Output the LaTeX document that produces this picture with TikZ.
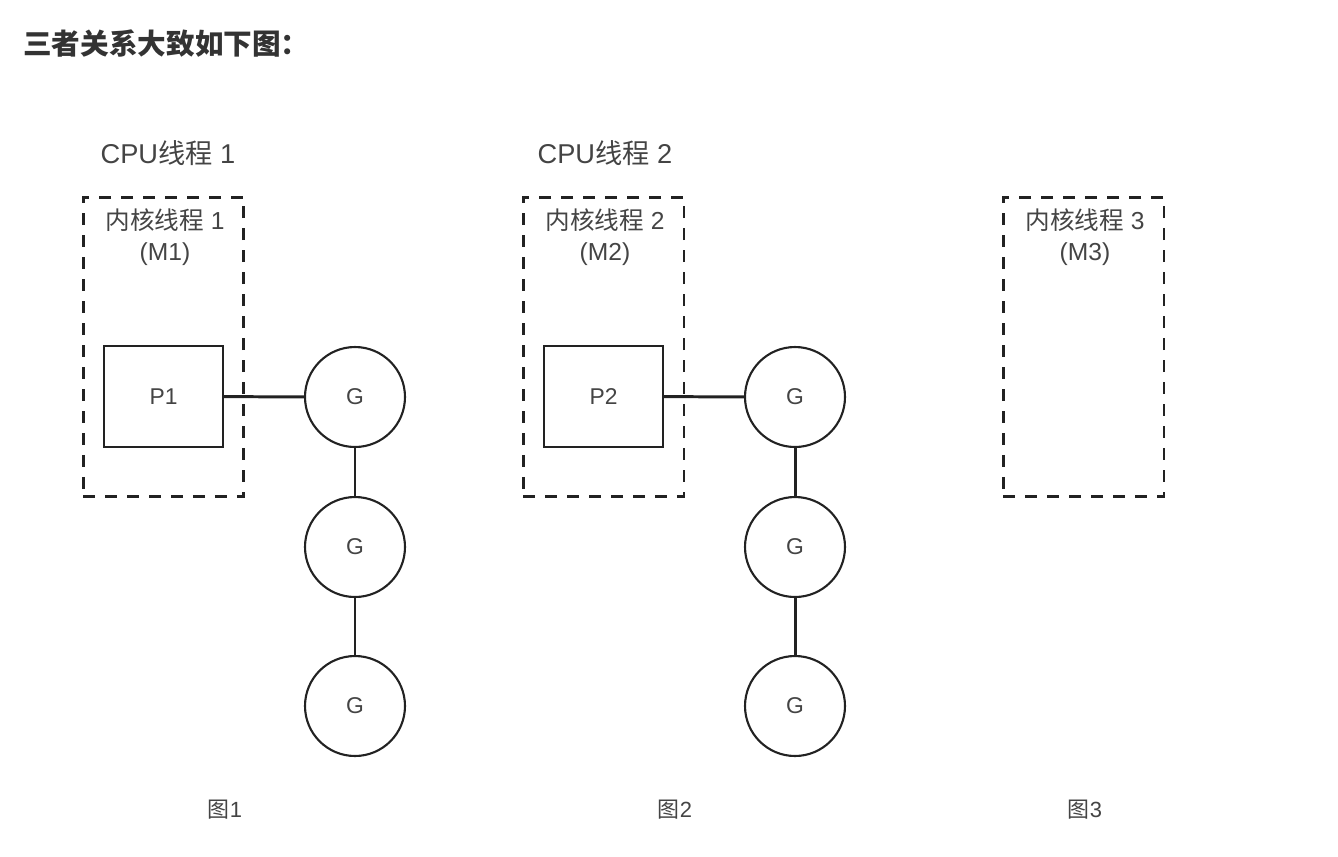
\documentclass[tikz,border=0pt]{standalone}
\usepackage{fontspec}
\setmainfont{Liberation Sans}
\newfontfamily\cjk{Noto Sans CJK SC}
\usepackage{tikz}
\usetikzlibrary{positioning}
\definecolor{linegray}{HTML}{222222}
\definecolor{textgray}{HTML}{444444}
\definecolor{titlegray}{HTML}{333333}

\begin{document}
\begin{tikzpicture}
		[
			x = 0.02cm, y = -0.02cm,
			title/.style = {anchor = west, text = titlegray, font = \cjk\bfseries\fontsize{16.3}{18}\selectfont},
			cpu/.style = {text = textgray, font = \fontsize{15.5}{17}\selectfont},
			kernel/.style = {rectangle, draw = linegray, line width = 1.7pt, dash pattern = on 0.24cm off 0.2cm, minimum width = 3.22cm, minimum height = 6cm, inner sep = 0cm},
			kernellabel/.style = {text = textgray, align = center, font = \fontsize{14}{18}\selectfont},
			proc/.style = {rectangle, draw = linegray, line width = 1.4pt, minimum width = 2.38cm, minimum height = 2.02cm, text = textgray, font = \fontsize{13}{14}\selectfont},
			gor/.style = {circle, draw = linegray, line width = 1.2pt, minimum size = 2cm, inner sep = 0cm, text = textgray, font = \fontsize{13}{14}\selectfont},
			link/.style = {draw = linegray, line width = 1.7pt},
			caption/.style = {text = textgray, font = \fontsize{12.5}{14}\selectfont},
		]
			%
			\useasboundingbox (0,0) rectangle (1338,856);
			\node (title) [title] at (17,44) {三者关系大致如下图：};
			%
			\node (cpuA) [cpu] at (168,153) {CPU{\cjk 线程} 1};
			\node (cpuB) [cpu] at (605,153) {CPU{\cjk 线程} 2};
			%
			\node (mA) [kernel] at (163.5,347) {};
			\node (mB) [kernel] at (603.5,347) {};
			\node (mC) [kernel] at (1083.5,347) {};
			\node (mAlabel) [kernellabel] at (165,237) {{\cjk 内核线程} 1\\(M1)};
			\node (mBlabel) [kernellabel] at (605,237) {{\cjk 内核线程} 2\\(M2)};
			\node (mClabel) [kernellabel] at (1085,237) {{\cjk 内核线程} 3\\(M3)};
			%
			\node (pA) [proc] at (163.5,396.5) {P1};
			\node (pB) [proc] at (603.5,396.5) {P2};
			%
			\node (gA1) [gor] at (355,397) {G};
			\node (gA2) [gor] at (355,547) {G};
			\node (gA3) [gor] at (355,706) {G};
			\node (gB1) [gor] at (795,397) {G};
			\node (gB2) [gor] at (795,547) {G};
			\node (gB3) [gor] at (795,706) {G};
			%
			\draw [link] (pA) -- (gA1);
			\draw [link] (gA1) -- (gA2);
			\draw [link] (gA2) -- (gA3);
			\draw [link] (pB) -- (gB1);
			\draw [link] (gB1) -- (gB2);
			\draw [link] (gB2) -- (gB3);
			%
			\node (capA) [caption] at (225,810) {{\cjk 图}1};
			\node (capB) [caption] at (675,810) {{\cjk 图}2};
			\node (capC) [caption] at (1085,810) {{\cjk 图}3};
			%
		\end{tikzpicture}
\end{document}
